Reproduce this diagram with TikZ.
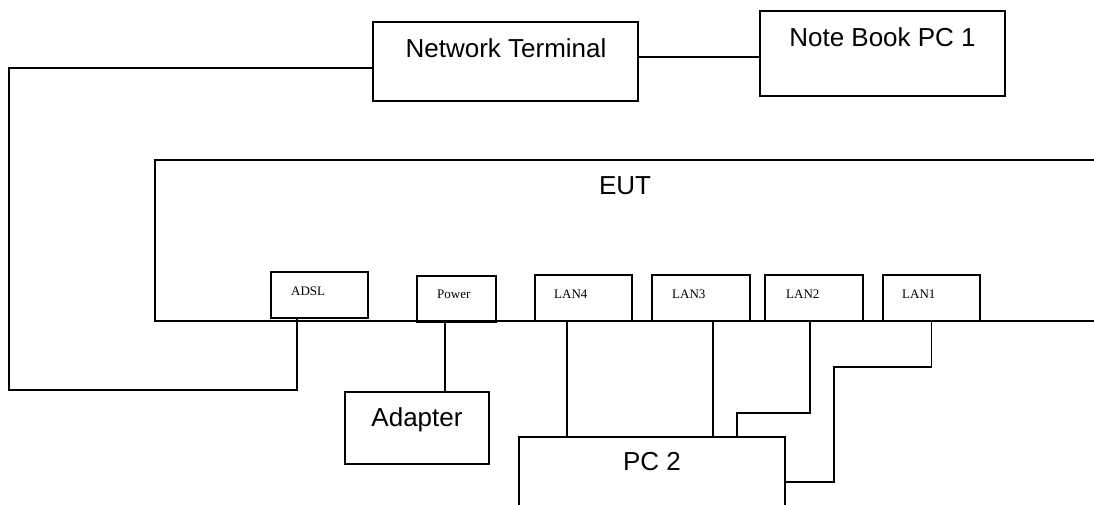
\documentclass[tikz,border=0pt]{standalone}
\usepackage{fontspec}
\setmainfont{Liberation Sans}
\newfontfamily\portfont{Liberation Serif}
\begin{document}
\begin{tikzpicture}[x=1pt,y=-1pt,
  box/.style={draw, line width=1.5pt, rectangle, inner sep=0pt, outer sep=0pt},
  portbox/.style={draw, line width=2pt, rectangle, inner sep=0pt, outer sep=0pt, minimum height=46pt},
  conn/.style={draw, line width=1.5pt},
  lbl/.style={inner sep=0pt, anchor=base, font=\fontsize{26}{30}\selectfont},
  portlbl/.style={inner sep=0pt, anchor=base west, font=\portfont\fontsize{13}{15}\selectfont}]
\useasboundingbox (0,0) rectangle (1094,504);
\clip (0,0) rectangle (1094,504);

% main boxes
\node[box, minimum width=265pt, minimum height=79pt] (nt) at (505.5,61.5) {};
\node[lbl] (ntlbl) at (506,57) {Network Terminal};
\node[box, minimum width=245pt, minimum height=85pt] (nb) at (882.5,53.5) {};
\node[lbl] (nblbl) at (882.5,46) {Note Book PC 1};
\node[box, minimum width=965pt, minimum height=161pt] (eut) at (637.5,240.5) {};
\node[lbl] (eutlbl) at (625,194) {EUT};
\node[box, minimum width=144pt, minimum height=72pt] (adapter) at (417,428) {};
\node[lbl] (adapterlbl) at (417,426) {Adapter};
\node[box, minimum width=266pt, minimum height=73pt] (pc) at (652,473.5) {};
\node[lbl] (pclbl) at (652,470) {PC 2};

% ports
\node[portbox, minimum width=97pt] (adsl) at (319.5,295) {};
\node[portlbl] (adsllbl) at (291,295) {ADSL};
\node[portbox, minimum width=79pt] (power) at (456.5,299) {};
\node[portlbl] (powerlbl) at (437,298) {Power};
\node[portbox, minimum width=97pt] (lanfour) at (583.5,298) {};
\node[portlbl] (lanfourlbl) at (554,298) {LAN4};
\node[portbox, minimum width=98pt] (lanthree) at (701,298) {};
\node[portlbl] (lanthreelbl) at (672,298) {LAN3};
\node[portbox, minimum width=98pt] (lantwo) at (814,298) {};
\node[portlbl] (lantwolbl) at (786,298) {LAN2};
\node[portbox, minimum width=97pt] (lanone) at (931.5,298) {};
\node[portlbl] (lanonelbl) at (902,298) {LAN1};

% connectors
\draw[conn] ([yshift=-6.5pt]nt.west) -- (9,68) -- (9,390) -- (297,390) -- (297,0 |- adsl.south);
\draw[conn] (nt.east |- 0,57) -- (nb.west |- 0,57);
\draw[conn] (445,0 |- power.south) -- (445,0 |- adapter.north);
\draw[conn] (567,0 |- lanfour.south) -- (567,0 |- pc.north);
\draw[conn] (713,0 |- lanthree.south) -- (713,0 |- pc.north);
\draw[conn] (810,0 |- lantwo.south) -- (810,413) -- (737,413) -- (737,0 |- pc.north);
\draw[conn] (lanone.south) -- (931.5,367) -- (834,367) -- (834,482) -- (pc.east |- 0,482);
\end{tikzpicture}
\end{document}
